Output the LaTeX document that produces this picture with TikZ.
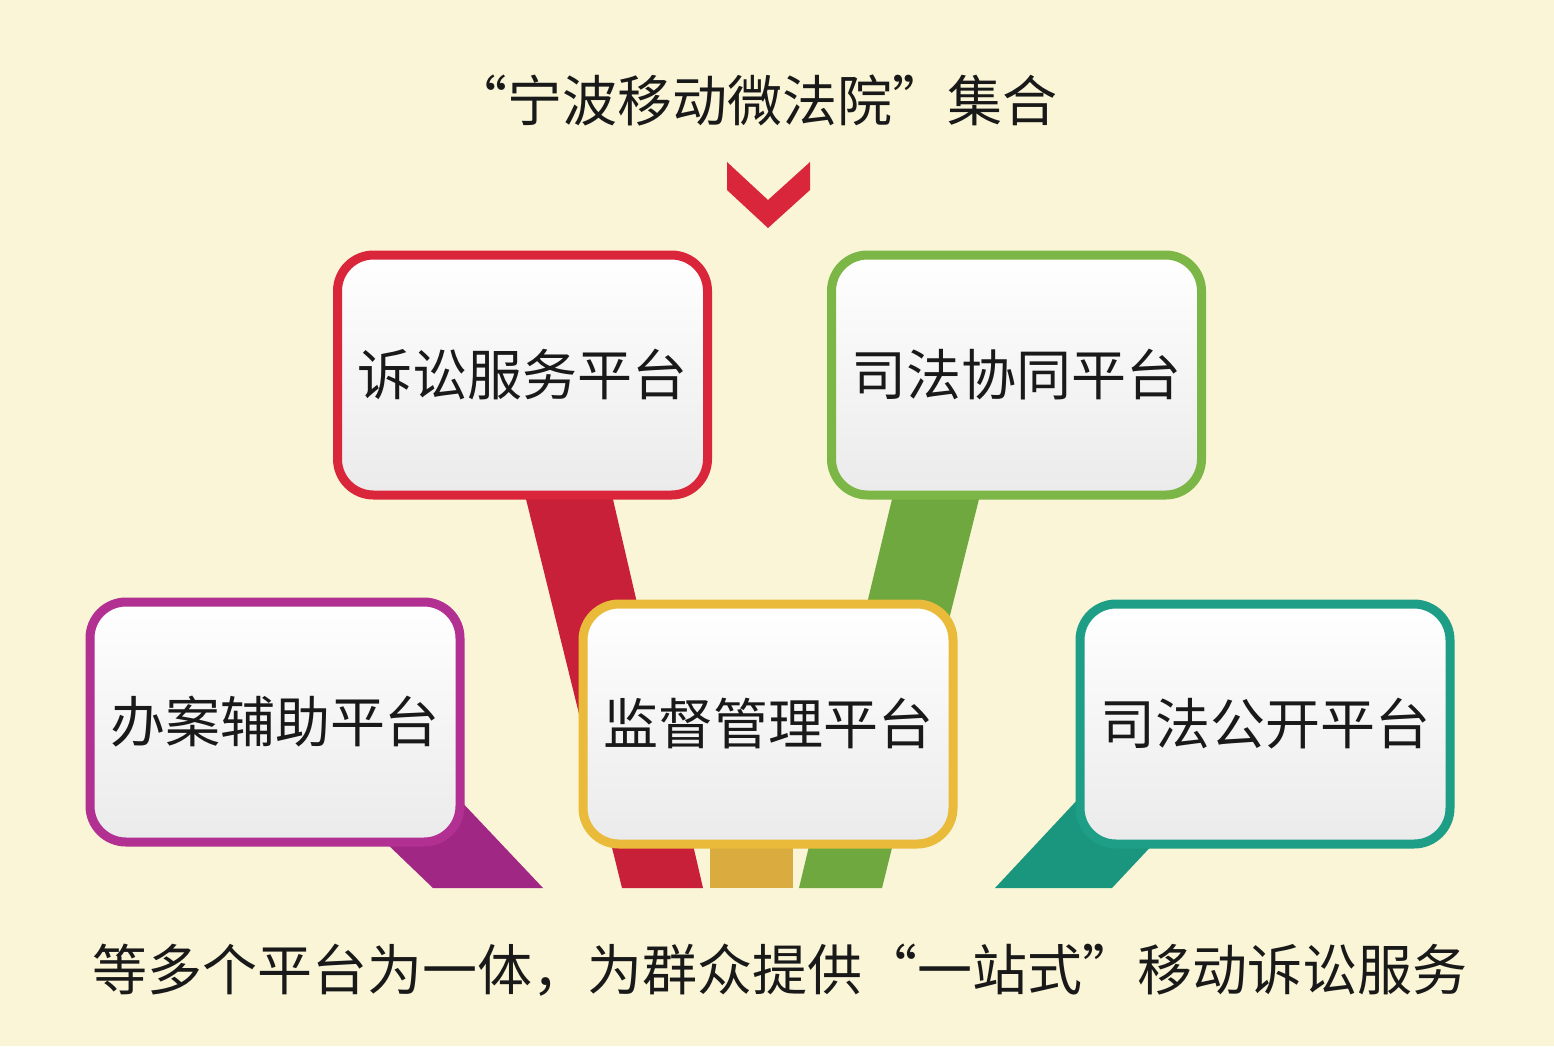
\documentclass[tikz,border=0pt]{standalone}
\usepackage{fontspec}
\setmainfont{Noto Sans CJK SC}
\usetikzlibrary{positioning}
\definecolor{bgcream}{RGB}{249,245,214}
\definecolor{courtred}{RGB}{218,38,58}
\definecolor{ribbonred}{RGB}{200,32,56}
\definecolor{courtgreen}{RGB}{124,182,70}
\definecolor{ribbongreen}{RGB}{110,168,62}
\definecolor{courtpink}{RGB}{178,48,146}
\definecolor{ribbonpink}{RGB}{160,40,132}
\definecolor{courtgold}{RGB}{234,186,58}
\definecolor{ribbongold}{RGB}{218,172,64}
\definecolor{courtteal}{RGB}{30,158,134}
\definecolor{ribbonteal}{RGB}{26,150,126}

\begin{document}
\begin{tikzpicture}[x=0.5pt, y=-0.5pt,
platform/.style={rectangle, rounded corners=18pt, line width=4.5pt, top color=white, bottom color=black!8, minimum width=185pt, minimum height=120pt, font=\fontsize{27.5}{30}\selectfont, text=black!90},
caption/.style={font=\fontsize{27.5}{30}\selectfont, text=black!90},
]
%Background
\fill[bgcream] (0,0) rectangle (1554,1046);

%Ribbons
\fill[ribbonred]   (525,495) -- (612,495) -- (703,888) -- (622,888) -- cycle;
\fill[ribbongreen] (893,495) -- (980,495) -- (882,888) -- (799,888) -- cycle;
\fill[ribbongold]  (710,840) -- (793,840) -- (793,888) -- (710,888) -- cycle;
\fill[ribbonpink]  (383,840) -- (457,797) -- (543,888) -- (433,888) -- cycle;
\fill[ribbonteal]  (1080,797) -- (1157,840) -- (1112,888) -- (995,888) -- cycle;

%Nodes
\node[caption]                         (title)   at (755,100)    {“宁波移动微法院”集合};
\node[platform, draw=courtred]         (litig)   at (522.5,375)  {诉讼服务平台};
\node[platform, draw=courtgreen]       (coop)    at (1016.5,375) {司法协同平台};
\node[platform, draw=courtpink]        (assist)  at (275,722)    {办案辅助平台};
\node[platform, draw=courtgold]        (super)   at (768,724)    {监督管理平台};
\node[platform, draw=courtteal]        (open)    at (1265,724)   {司法公开平台};
\node[caption]                         (summary) at (780,970)    {等多个平台为一体，为群众提供“一站式”移动诉讼服务};

%Chevron
\fill[courtred] (727,162) -- (768,200) -- (810,162) -- (810,190) -- (768,228) -- (727,190) -- cycle;
\end{tikzpicture}
\end{document}
